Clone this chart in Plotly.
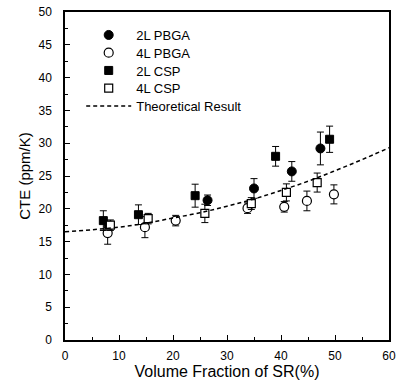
import plotly.graph_objects as go

# 2L PBGA (filled circles)
pbga2_x = [8.1, 26.4, 35.0, 42.0, 47.3]
pbga2_y = [17.3, 21.3, 23.1, 25.7, 29.2]
pbga2_e = [0.8, 0.8, 1.5, 1.5, 2.5]

# 4L PBGA (open circles)
pbga4_x = [7.9, 14.8, 20.5, 33.8, 40.6, 44.8, 49.8]
pbga4_y = [16.3, 17.2, 18.2, 20.1, 20.3, 21.2, 22.2]
pbga4_e = [1.7, 1.6, 0.8, 0.8, 0.8, 1.5, 1.45]

# 2L CSP (filled squares)
csp2_x = [7.1, 13.6, 24.1, 39.0, 49.0]
csp2_y = [18.2, 19.1, 22.0, 28.0, 30.6]
csp2_e = [1.5, 1.5, 1.75, 1.5, 2.0]

# 4L CSP (open squares)
csp4_x = [8.4, 15.4, 25.9, 34.5, 41.0, 46.7]
csp4_y = [17.5, 18.5, 19.3, 20.8, 22.5, 24.0]
csp4_e = [0.8, 0.8, 1.4, 0.9, 1.3, 1.45]

# Theoretical result (dashed curve)
theo_x = [0, 5, 10, 15, 20, 25, 30, 35, 40, 45, 50, 55, 60]
theo_y = [16.5, 16.8, 17.2, 17.8, 18.6, 19.4, 20.4, 21.5, 22.8, 24.2, 25.8, 27.5, 29.3]

font_family = "Liberation Sans, Arial, sans-serif"

def err(e):
    return dict(type="data", array=e, visible=True, color="black",
                thickness=1, width=3.5)

fig = go.Figure()
fig.add_trace(go.Scatter(x=pbga2_x, y=pbga2_y, mode="markers", name="2L PBGA",
                         error_y=err(pbga2_e), legend="legend",
                         marker=dict(symbol="circle", size=9, color="black",
                                     line=dict(color="black", width=1))))
fig.add_trace(go.Scatter(x=pbga4_x, y=pbga4_y, mode="markers", name="4L PBGA",
                         error_y=err(pbga4_e), legend="legend2",
                         marker=dict(symbol="circle", size=9, color="white",
                                     line=dict(color="black", width=1.2))))
fig.add_trace(go.Scatter(x=csp2_x, y=csp2_y, mode="markers", name="2L CSP",
                         error_y=err(csp2_e), legend="legend3",
                         marker=dict(symbol="square", size=8, color="black",
                                     line=dict(color="black", width=1))))
fig.add_trace(go.Scatter(x=csp4_x, y=csp4_y, mode="markers", name="4L CSP",
                         error_y=err(csp4_e), legend="legend4",
                         marker=dict(symbol="square", size=8, color="white",
                                     line=dict(color="black", width=1.2))))
fig.add_trace(go.Scatter(x=theo_x, y=theo_y, mode="lines", name="Theoretical Result",
                         legend="legend5",
                         line=dict(color="black", width=1.5, dash="4px,3px", shape="spline")))

# legend rows (pixel centers measured from the top of the plot area)
plot_top, plot_h = 12, 328
row_px = [35, 52.7, 70.5, 88.2, 106]

def leg(px):
    return dict(x=0.05, y=1 - (px - plot_top) / plot_h, xanchor="left", yanchor="middle",
                bgcolor="rgba(0,0,0,0)", font=dict(size=13, color="black"),
                itemwidth=45, borderwidth=0)

fig.update_layout(
    width=396, height=389,
    margin=dict(l=65, r=7, t=12, b=49),
    paper_bgcolor="white", plot_bgcolor="white",
    font=dict(family=font_family, color="black", size=12),
    showlegend=True,
    legend=leg(row_px[0]), legend2=leg(row_px[1]), legend3=leg(row_px[2]),
    legend4=leg(row_px[3]), legend5=leg(row_px[4]),
    xaxis=dict(range=[0, 60], dtick=10, tick0=0, showgrid=False, zeroline=False,
               showline=True, linecolor="black", linewidth=1.5, mirror=True,
               automargin=False,
               ticks="inside", ticklen=5, tickcolor="black",
               minor=dict(ticks="inside", dtick=5, ticklen=3, tickcolor="black"),
               tickfont=dict(size=12, color="black"), ticklabelstandoff=4,
               title=dict(text="Volume Fraction of SR(%)",
                          font=dict(size=16, color="black"), standoff=0)),
    yaxis=dict(range=[0, 50], dtick=5, tick0=0, showgrid=False, zeroline=False,
               showline=True, linecolor="black", linewidth=1.5, mirror=True,
               automargin=False,
               ticks="inside", ticklen=5, tickcolor="black",
               minor=dict(ticks="inside", dtick=2.5, ticklen=3, tickcolor="black"),
               tickfont=dict(size=12, color="black"), ticklabelstandoff=9,
               title=dict(text="CTE (ppm/K)", font=dict(size=15, color="black"),
                          standoff=4)),
)

fig.write_html("out.html")
